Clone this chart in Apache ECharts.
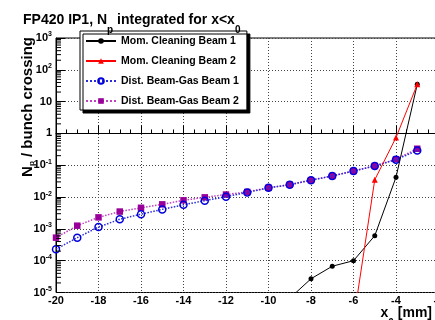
<!DOCTYPE html>
<html><head><meta charset="utf-8">
<script src="https://cdn.jsdelivr.net/npm/echarts@6/dist/echarts.min.js"></script>
<style>html,body{margin:0;padding:0;background:#fff}#c{width:435px;height:320px}</style>
</head><body><div id="c"></div>
<script>
// ---- data ----
const xMom1 = [-9, -8, -7, -6, -5, -4, -3];
const yMom1 = [6.6e-6, 2.7e-5, 6.7e-5, 1.0e-4, 6.1e-4, 0.042, 35];
const xMom2 = [-6, -5, -4, -3];
const yMom2 = [1.3e-6, 0.035, 0.74, 35];
const xDist = [-20, -19, -18, -17, -16, -15, -14, -13, -12, -11, -10, -9, -8, -7, -6, -5, -4, -3];
const yDist1 = [2.3e-4, 5.3e-4, 1.14e-3, 2.0e-3, 2.9e-3, 4.1e-3, 5.7e-3, 7.7e-3, 1.03e-2, 1.4e-2, 1.95e-2, 2.45e-2, 3.4e-2, 4.6e-2, 6.6e-2, 9.5e-2, 0.15, 0.29];
const yDist2 = [5.3e-4, 1.26e-3, 2.3e-3, 3.5e-3, 4.6e-3, 5.9e-3, 7.9e-3, 9.8e-3, 1.2e-2, 1.45e-2, 1.95e-2, 2.45e-2, 3.4e-2, 4.6e-2, 6.6e-2, 9.5e-2, 0.155, 0.33];
const seriesNames = ['Mom. Cleaning Beam 1', 'Mom. Cleaning Beam 2', 'Dist. Beam-Gas Beam 1', 'Dist. Beam-Gas Beam 2'];
const yDecades = [-5, -4, -3, -2, -1, 0, 1, 2, 3];   // y ticks are 10^n
const yMinorMultipliers = [2, 3, 4, 5, 6, 7, 8, 9];
const xRange = [-20, -2];

const F = '"Liberation Sans", Arial, Helvetica, sans-serif';
// log10-scaled y values on a linear axis (keeps lines running below the axis minimum un-clamped)
const pair = (xs, ys) => xs.map((x, i) => [x, Math.log10(ys[i])]);

const minorVals = [];
yDecades.slice(0, -1).forEach(e => yMinorMultipliers.forEach(m => minorVals.push([xRange[0], Math.log10(m) + e])));

const chart = echarts.init(document.getElementById('c'), null, {renderer: 'canvas'});
chart.setOption({
  animation: false,
  backgroundColor: '#fff',
  grid: {left: 56, top: 38, width: 382.5, height: 254.5, show: true, borderColor: '#000', borderWidth: 1,
         backgroundColor: 'transparent', containLabel: false, outerBoundsMode: 'none'},
  xAxis: {
    type: 'value', min: xRange[0], max: xRange[1], interval: 2,
    axisLine: {lineStyle: {color: '#000', width: 1}},
    axisTick: {inside: true, length: 8, lineStyle: {color: '#000'}},
    minorTick: {show: true, splitNumber: 4, length: 4, lineStyle: {color: '#000'}},
    splitLine: {show: true, lineStyle: {color: '#444', type: [1, 2], width: 1}},
    axisLabel: {fontFamily: F, fontSize: 11, fontWeight: 'bold', color: '#000', margin: 3, showMinLabel: true, showMaxLabel: true, hideOverlap: false}
  },
  yAxis: {
    type: 'value', min: yDecades[0], max: yDecades[yDecades.length - 1], interval: 1,
    axisLine: {show: true, lineStyle: {color: '#000', width: 1}},
    axisTick: {show: true, inside: true, length: 9, lineStyle: {color: '#000'}},
    splitLine: {show: true, lineStyle: {color: '#444', type: [1, 2], width: 1}},
    axisLabel: {
      margin: 4,
      formatter: v => {
        const e = Math.round(v);
        if (e === 0) return '{b|1}';
        if (e === 1) return '{b|10}';
        return '{b|10}{s|' + e + '}';
      },
      rich: {
        b: {fontFamily: F, fontSize: 11, fontWeight: 'bold', color: '#000', lineHeight: 14},
        s: {fontFamily: F, fontSize: 7, fontWeight: 'bold', color: '#000', lineHeight: 14, padding: [0, 0, 7, 0]}
      }
    }
  },
  legend: {
    orient: 'vertical', left: 80, top: 31, itemWidth: 30, itemHeight: 7, itemGap: 8,
    padding: [4, 8, 3, 5], backgroundColor: '#fff', borderColor: '#000', borderWidth: 1,
    shadowColor: '#000', shadowBlur: 0, shadowOffsetX: 3, shadowOffsetY: 3,
    selectedMode: false, data: seriesNames,
    textStyle: {fontFamily: F, fontSize: 10.5, fontWeight: 'bold', color: '#000', lineHeight: 12}
  },
  series: [
    {name: seriesNames[0], type: 'line', data: pair(xMom1, yMom1), symbol: 'circle', symbolSize: 5,
     itemStyle: {color: '#000'}, lineStyle: {color: '#000', width: 1}, z: 4},
    {name: seriesNames[1], type: 'line', data: pair(xMom2, yMom2), symbol: 'triangle', symbolSize: 6,
     itemStyle: {color: '#ff0000'}, lineStyle: {color: '#ff0000', width: 1}, z: 5},
    {name: seriesNames[2], type: 'line', data: pair(xDist, yDist1), symbol: 'circle', symbolSize: 7,
     itemStyle: {color: 'rgba(0,0,0,0)', borderColor: '#0000dd', borderWidth: 1.5}, lineStyle: {color: '#2a2add', width: 1.5, type: 'dotted'}, z: 3},
    {name: seriesNames[3], type: 'line', data: pair(xDist, yDist2), symbol: 'rect', symbolSize: 6.5,
     itemStyle: {color: '#990099'}, lineStyle: {color: '#c040c0', width: 1.5, type: 'dotted'}, z: 2},
    {type: 'custom', silent: true, z: 6, clip: false, data: minorVals,
     renderItem: (p, api) => {
       const c = api.coord([api.value(0), api.value(1)]);
       return {type: 'line', shape: {x1: c[0], y1: c[1], x2: c[0] + 5, y2: c[1]}, style: {stroke: '#000', lineWidth: 1}};
     }}
  ],
  graphic: [
    {type: 'text', x: 23, y: 20, z: 10, style: {
      text: '{t|FP420 IP1, N}{s|p}{t| integrated for x<x}{s|0}', align: 'left', verticalAlign: 'middle',
      rich: {t: {fontFamily: F, fontSize: 14, fontWeight: 'bold', fill: '#000', lineHeight: 16},
             s: {fontFamily: F, fontSize: 10, fontWeight: 'bold', fill: '#000', lineHeight: 16, padding: [20, 0, 0, 0]}}}},
    {type: 'text', x: 27.75, y: 37, rotation: Math.PI / 2, z: 10, style: {
      text: '{t|N}{s|p}{t| / bunch crossing}', align: 'right', verticalAlign: 'middle',
      rich: {t: {fontFamily: F, fontSize: 15, fontWeight: 'bold', fill: '#000', lineHeight: 18},
             s: {fontFamily: F, fontSize: 8, fontWeight: 'bold', fill: '#000', lineHeight: 18, padding: [8, 0, 0, 0]}}}},
    {type: 'text', x: 432, y: 313.5, z: 10, style: {
      text: '{t|x}{s|0}{t| [mm]}', align: 'right', verticalAlign: 'middle',
      rich: {t: {fontFamily: F, fontSize: 14, fontWeight: 'bold', fill: '#000', lineHeight: 16},
             s: {fontFamily: F, fontSize: 10, fontWeight: 'bold', fill: '#000', lineHeight: 16, padding: [20, 0, 0, 0]}}}}
  ]
});
</script></body></html>
